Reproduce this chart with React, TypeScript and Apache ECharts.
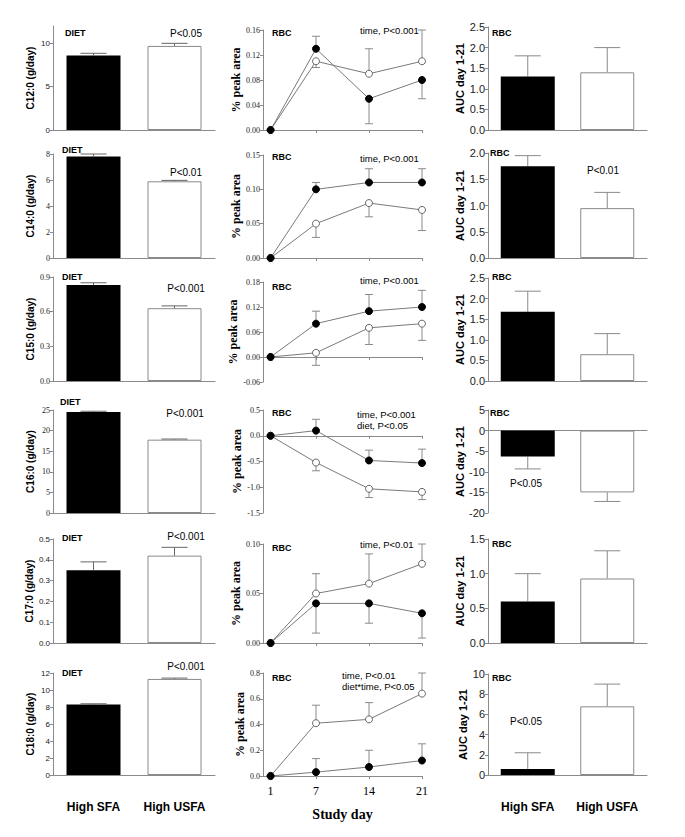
import React, { useEffect, useRef } from 'react';
import * as echarts from 'echarts';

// ---------------- DATA ----------------
const groups = ['High SFA', 'High USFA'];
const days = [1, 7, 14, 21];
const fatNames = ['C12:0', 'C14:0', 'C15:0', 'C16:0', 'C17:0', 'C18:0'];

// Diet intake (g/day): [High SFA, High USFA] and top of error bars
const dietMean = [[8.6, 9.7], [7.8, 5.9], [0.83, 0.63], [24.5, 17.8], [0.35, 0.42], [8.3, 11.3]];
const dietErrEnd = [[8.85, 10.0], [8.0, 5.97], [0.85, 0.65], [24.7, 17.95], [0.39, 0.46], [8.38, 11.4]];

// RBC % peak area by study day
const rbcSfa = [
  [0, 0.13, 0.05, 0.08],
  [0, 0.10, 0.11, 0.11],
  [0, 0.08, 0.11, 0.12],
  [0, 0.10, -0.48, -0.53],
  [0, 0.04, 0.04, 0.03],
  [0, 0.03, 0.07, 0.12],
];
const rbcSfaErrEnd = [
  [null, 0.15, 0.01, 0.05],
  [null, 0.11, 0.13, 0.13],
  [null, 0.11, 0.15, 0.16],
  [null, 0.32, -0.28, -0.26],
  [null, 0.01, 0.02, 0.005],
  [null, 0.135, 0.2, 0.25],
];
const rbcUsfa = [
  [0, 0.11, 0.09, 0.11],
  [0, 0.05, 0.08, 0.07],
  [0, 0.01, 0.07, 0.08],
  [0, -0.52, -1.03, -1.09],
  [0, 0.05, 0.06, 0.08],
  [0, 0.41, 0.44, 0.64],
];
const rbcUsfaErrEnd = [
  [null, 0.10, 0.13, 0.16],
  [null, 0.03, 0.06, 0.04],
  [null, -0.02, 0.03, 0.04],
  [null, -0.68, -1.2, -1.24],
  [null, 0.07, 0.09, 0.10],
  [null, 0.55, 0.57, 0.80],
];

// AUC day 1-21
const aucMean = [[1.3, 1.4], [1.75, 0.95], [1.68, 0.65], [-6.3, -15], [0.6, 0.93], [0.6, 6.8]];
const aucErrEnd = [[1.8, 2.0], [1.95, 1.25], [2.18, 1.15], [-9.3, -17.2], [1.0, 1.33], [2.2, 9.0]];

// Axis ranges [min, max, interval] and tick decimals
const dietAxis = [[0, 12, 5], [0, 8, 2], [0, 0.9, 0.3], [0, 25, 5], [0, 0.5, 0.1], [0, 12, 2]];
const dietTicks = [[0, 5, 10], null, null, null, null, null];
const dietDec = [0, 0, 1, 0, 1, 0];
const rbcAxis = [[0, 0.16, 0.04], [0, 0.15, 0.05], [-0.06, 0.18, 0.06], [-1.5, 0.5, 0.5], [0, 0.1, 0.05], [0, 0.8, 0.2]];
const rbcDec = [2, 2, 2, 1, 2, 1];
const aucAxis = [[0, 2.5, 0.5], [0, 2, 0.5], [0, 2.5, 0.5], [-20, 5, 5], [0, 1.5, 0.5], [0, 10, 2]];
const aucDec = [1, 1, 1, 0, 1, 0];

// Annotation texts
const dietP = ['P<0.05', 'P<0.01', 'P<0.001', 'P<0.001', 'P<0.001', 'P<0.001'];
const rbcStats = [
  ['time, P<0.001'],
  ['time, P<0.001'],
  ['time, P<0.001'],
  ['time, P<0.001', 'diet, P<0.05'],
  ['time, P<0.01'],
  ['time, P<0.01', 'diet*time, P<0.05'],
];
const aucP = [null, 'P<0.01', null, 'P<0.05', null, 'P<0.05'];

// ---------------- LAYOUT / STYLE ----------------
const SANS = '"Liberation Sans", Arial, sans-serif';
const SERIF = '"Liberation Serif", "Times New Roman", serif';
const AXIS = '#8a8a8a';
const colLeft = [53, 263, 488];
const colWidth = [162, 159, 159];
const tops = [[26, 30, 27], [154, 155, 153], [277, 282, 278], [410, 410, 410], [539, 544, 539], [673, 673, 674]];
const bottoms = [[130, 130, 130], [258, 258, 258], [381, 382, 381], [513, 513, 513], [643, 643, 643], [775, 776, 775]];

// text positions: [x, y]
const dietLabelPos = [[65, 33], [62, 150], [62, 277], [60, 402], [62, 538], [62, 673]];
const dietPPos = [[186, 33], [186, 172], [186, 288], [185, 413], [186, 536], [186, 666]];
const rbcLabelPos = [[272, 33], [272, 157], [272, 287], [272, 413], [272, 548], [272, 678]];
const rbcStatPos = [[360, 30], [360, 158], [360, 280], [357, 414], [360, 544], [342, 675]];
const aucLabelPos = [[492, 33], [490, 153], [492, 277], [490, 413], [492, 544], [492, 678]];
const aucPPos = [null, [603, 170], null, [526, 483], null, [526, 721]];

function errRender(capHalf: number, color: string) {
  return (params: any, api: any) => {
    const x = api.value(0);
    const v = api.value(1);
    const e = api.value(2);
    const p1 = api.coord([x, v]);
    const p2 = api.coord([x, e]);
    const style = { stroke: color, lineWidth: 1 };
    return {
      type: 'group',
      children: [
        { type: 'line', shape: { x1: p1[0], y1: p1[1], x2: p2[0], y2: p2[1] }, style },
        { type: 'line', shape: { x1: p2[0] - capHalf, y1: p2[1], x2: p2[0] + capHalf, y2: p2[1] }, style },
      ],
    };
  };
}

function buildOption() {
  const grid: any[] = [];
  const xAxis: any[] = [];
  const yAxis: any[] = [];
  const series: any[] = [];
  const graphic: any[] = [];

  const txt = (x: number, y: number, text: string, opts: any = {}) => {
    graphic.push({
      type: 'text',
      x,
      y,
      silent: true,
      style: {
        text,
        fill: '#000',
        fontSize: opts.size || 10,
        fontWeight: opts.bold ? 'bold' : 'normal',
        fontFamily: opts.family || SANS,
        textAlign: opts.align || 'left',
        textVerticalAlign: 'middle',
      },
    });
  };

  const fmt = (dec: number) => (v: number) => (Math.abs(v) < 1e-9 ? 0 : v).toFixed(dec);

  for (let r = 0; r < 6; r++) {
    const last = r === 5;
    for (let c = 0; c < 3; c++) {
      grid.push({
        left: colLeft[c],
        width: colWidth[c],
        top: tops[r][c],
        height: bottoms[r][c] - tops[r][c],
      });
    }
    const g0 = r * 3;
    const g1 = r * 3 + 1;
    const g2 = r * 3 + 2;

    const yBase = (gi: number, range: number[], dec: number, name: string, nameGap: number, nameFont: any, labelFont: any, custom: number[] | null) => {
      const ax: any = {
        gridIndex: gi,
        type: 'value',
        min: range[0],
        max: range[1],
        interval: range[2],
        name,
        nameLocation: 'middle',
        nameGap,
        nameTextStyle: nameFont,
        axisLine: { show: true, onZero: false, lineStyle: { color: AXIS, width: 1 } },
        axisTick: { show: true, length: 3, lineStyle: { color: AXIS } },
        splitLine: { show: false },
        axisLabel: { margin: 3, color: '#222', formatter: fmt(dec), ...labelFont },
      };
      if (custom) {
        ax.axisTick.customValues = custom;
        ax.axisLabel.customValues = custom;
      }
      return ax;
    };

    const catLabel = {
      show: last,
      interval: 0,
      margin: 26,
      color: '#000',
      fontSize: 12,
      fontWeight: 'bold',
      fontFamily: SANS,
    };

    // ---- column 1: diet bars ----
    xAxis.push({
      gridIndex: g0,
      type: 'category',
      data: groups,
      axisLine: { lineStyle: { color: AXIS, width: 1 } },
      axisTick: { show: false },
      axisLabel: catLabel,
    });
    yAxis.push(
      yBase(
        g0,
        dietAxis[r],
        dietDec[r],
        fatNames[r] + ' (g/day)',
        18,
        { fontSize: 10, fontWeight: 'bold', color: '#000', fontFamily: SANS },
        { fontSize: 8, fontFamily: r >= 1 && r <= 3 ? SERIF : SANS },
        dietTicks[r]
      )
    );
    series.push({
      type: 'bar',
      xAxisIndex: g0,
      yAxisIndex: g0,
      barWidth: 54,
      z: 2,
      data: dietMean[r].map((v, i) => ({
        value: v,
        itemStyle: i === 0 ? { color: '#000' } : { color: '#fff', borderColor: '#8a8a8a', borderWidth: 1 },
      })),
    });
    series.push({
      type: 'custom',
      xAxisIndex: g0,
      yAxisIndex: g0,
      z: 3,
      renderItem: errRender(13, '#666'),
      encode: { x: 0, y: 1 },
      data: dietMean[r].map((v, i) => [i, v, dietErrEnd[r][i]]),
    });

    // ---- column 2: RBC time course ----
    xAxis.push({
      gridIndex: g1,
      type: 'value',
      min: 0,
      max: 21,
      name: last ? 'Study day' : '',
      nameLocation: 'middle',
      nameGap: 31,
      nameTextStyle: { fontSize: 14, fontWeight: 'bold', fontFamily: SERIF, color: '#000' },
      axisLine: { onZero: true, lineStyle: { color: AXIS, width: 1 } },
      axisTick: { show: true, length: 3, customValues: [1, 7, 14, 21], lineStyle: { color: AXIS } },
      splitLine: { show: false },
      axisLabel: {
        show: last,
        customValues: days,
        margin: 9,
        color: '#000',
        fontSize: 12,
        fontFamily: SERIF,
      },
    });
    yAxis.push(
      yBase(
        g1,
        rbcAxis[r],
        rbcDec[r],
        '% peak area',
        14,
        { fontSize: 12, fontWeight: 'bold', color: '#000', fontFamily: SERIF },
        { fontSize: 8, fontFamily: SERIF },
        null
      )
    );
    const errSeries = (means: number[], ends: (number | null)[]) =>
      days
        .map((d, i) => [d, means[i], ends[i]])
        .filter((e) => e[2] !== null);
    series.push({
      type: 'custom',
      xAxisIndex: g1,
      yAxisIndex: g1,
      z: 1,
      renderItem: errRender(4, '#8a8a8a'),
      encode: { x: 0, y: 1 },
      data: errSeries(rbcSfa[r], rbcSfaErrEnd[r]),
    });
    series.push({
      type: 'custom',
      xAxisIndex: g1,
      yAxisIndex: g1,
      z: 1,
      renderItem: errRender(4, '#8a8a8a'),
      encode: { x: 0, y: 1 },
      data: errSeries(rbcUsfa[r], rbcUsfaErrEnd[r]),
    });
    series.push({
      type: 'line',
      xAxisIndex: g1,
      yAxisIndex: g1,
      z: 3,
      symbol: 'circle',
      symbolSize: 7,
      lineStyle: { color: '#7a7a7a', width: 1 },
      itemStyle: { color: '#fff', borderColor: '#666', borderWidth: 1 },
      data: days.map((d, i) => [d, rbcUsfa[r][i]]),
    });
    series.push({
      type: 'line',
      xAxisIndex: g1,
      yAxisIndex: g1,
      z: 4,
      symbol: 'circle',
      symbolSize: 7,
      lineStyle: { color: '#7a7a7a', width: 1 },
      itemStyle: { color: '#000', borderColor: '#000', borderWidth: 1 },
      data: days.map((d, i) => [d, rbcSfa[r][i]]),
    });

    // ---- column 3: AUC bars ----
    xAxis.push({
      gridIndex: g2,
      type: 'category',
      data: groups,
      axisLine: { onZero: true, lineStyle: { color: AXIS, width: 1 } },
      axisTick: { show: false },
      axisLabel: catLabel,
    });
    yAxis.push(
      yBase(
        g2,
        aucAxis[r],
        aucDec[r],
        'AUC day 1-21',
        18,
        { fontSize: 11, fontWeight: 'bold', color: '#000', fontFamily: SANS },
        { fontSize: 11, fontFamily: SANS },
        null
      )
    );
    series.push({
      type: 'bar',
      xAxisIndex: g2,
      yAxisIndex: g2,
      barWidth: 54,
      z: 2,
      data: aucMean[r].map((v, i) => ({
        value: v,
        itemStyle: i === 0 ? { color: '#000' } : { color: '#fff', borderColor: '#8a8a8a', borderWidth: 1 },
      })),
    });
    series.push({
      type: 'custom',
      xAxisIndex: g2,
      yAxisIndex: g2,
      z: 1,
      renderItem: errRender(13, '#8a8a8a'),
      encode: { x: 0, y: 1 },
      data: aucMean[r].map((v, i) => [i, v, aucErrEnd[r][i]]),
    });

    // ---- annotations ----
    txt(dietLabelPos[r][0], dietLabelPos[r][1], 'DIET', { bold: true, size: 9 });
    txt(dietPPos[r][0], dietPPos[r][1], dietP[r], { size: 10, align: 'center' });
    txt(rbcLabelPos[r][0], rbcLabelPos[r][1], 'RBC', { bold: true, size: 9 });
    rbcStats[r].forEach((s, k) => txt(rbcStatPos[r][0], rbcStatPos[r][1] + k * 11, s, { size: 9.5 }));
    txt(aucLabelPos[r][0], aucLabelPos[r][1], 'RBC', { bold: true, size: 9 });
    const pp = aucPPos[r];
    const ap = aucP[r];
    if (pp && ap) txt(pp[0], pp[1], ap, { size: 10, align: 'center' });
  }

  return { animation: false, backgroundColor: '#fff', grid, xAxis, yAxis, series, graphic };
}

export default function App() {
  const ref = useRef<HTMLDivElement>(null);
  useEffect(() => {
    document.body.style.margin = '0';
    if (!ref.current) return;
    const chart = echarts.init(ref.current, null, { renderer: 'svg' });
    chart.setOption(buildOption() as any);
    return () => chart.dispose();
  }, []);
  return <div ref={ref} style={{ width: 685, height: 837, background: '#fff' }} />;
}
